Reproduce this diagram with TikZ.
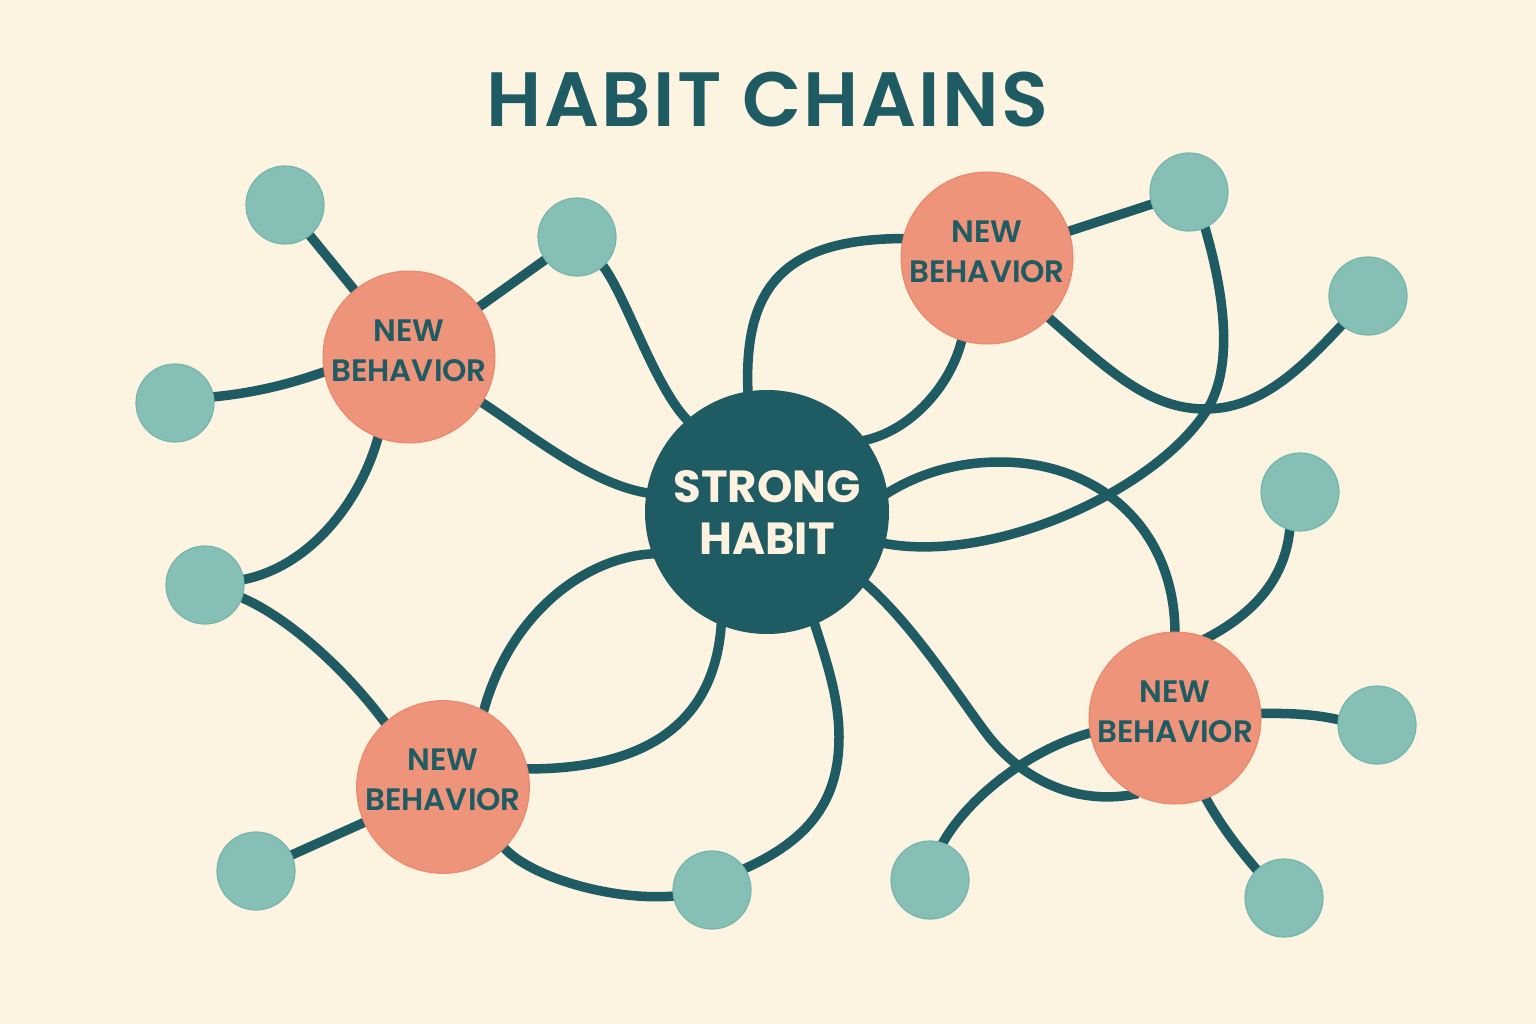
\documentclass[tikz,border=0pt]{standalone}
\usepackage{fontspec}
\setmainfont{Poppins}
\newfontfamily\titlefont{Poppins SemiBold}[LetterSpace=3]
\newfontfamily\labelfont{Poppins SemiBold}
\definecolor{bgc}{HTML}{FDF3E1}
\definecolor{deep}{HTML}{1E5B63}
\definecolor{coral}{HTML}{EE947A}
\definecolor{coraledge}{HTML}{E98A6E}
\definecolor{mint}{HTML}{86BFB6}
\definecolor{mintedge}{HTML}{74B6AD}
\definecolor{cream}{HTML}{FDF1DF}
\pgfdeclarelayer{bg}
\pgfdeclarelayer{edges}
\pgfsetlayers{bg,edges,main}
\begin{document}
\begin{tikzpicture}[x=1pt,y=-1pt,
  link/.style={draw=deep,line width=9.5pt,shorten <=-4pt,shorten >=-4pt},
  hub/.style={circle,fill=deep,minimum size=244pt,inner sep=0pt,align=center,
    text=cream,font=\fontsize{45}{52}\selectfont\bfseries},
  nb/.style={circle,fill=coral,draw=coraledge,line width=1.2pt,minimum size=170pt,inner sep=0pt,
    align=center,text=deep,font=\fontsize{31}{40}\labelfont},
  leaf/.style={circle,fill=mint,draw=mintedge,line width=1.2pt,minimum size=78pt,inner sep=0pt},
  titlestyle/.style={text=deep,font=\fontsize{77}{80}\titlefont,inner sep=0pt}]
\begin{pgfonlayer}{bg}
\fill[bgc] (0,0) rectangle (1536,1024);
\end{pgfonlayer}
\useasboundingbox (0,0) rectangle (1536,1024);

\node[titlestyle] (T) at (767.5,100) {HABIT CHAINS};

\node[hub] (C) at (767,512) {STRONG\\HABIT};
\node[nb] (N1) at (409,357) {NEW\\BEHAVIOR\rule[-12pt]{0pt}{12pt}};
\node[nb] (N2) at (987,258) {NEW\\BEHAVIOR\rule[-12pt]{0pt}{12pt}};
\node[nb] (N3) at (443,787) {NEW\\BEHAVIOR\rule[-14pt]{0pt}{14pt}};
\node[nb] (N4) at (1175,718) {NEW\\BEHAVIOR\rule[-12pt]{0pt}{12pt}};

\node[leaf] (L1) at (285,205) {};
\node[leaf] (L2) at (577,237) {};
\node[leaf] (L3) at (175,403) {};
\node[leaf] (L4) at (205,585) {};
\node[leaf] (L5) at (1189,192) {};
\node[leaf] (L6) at (1368,296) {};
\node[leaf] (L7) at (1300,492) {};
\node[leaf] (L8) at (1377,725) {};
\node[leaf] (L9) at (1284,898) {};
\node[leaf] (L10) at (930,880) {};
\node[leaf] (L11) at (712,890) {};
\node[leaf] (L12) at (256,871) {};

\begin{pgfonlayer}{edges}
\draw[link] (L1) -- (N1);
\draw[link] (N1) -- (L2);
\draw[link] (L3.9) .. controls (255,393) and (290,384) .. (N1.190);
\draw[link] (N1.328) .. controls (525,430) and (590,485) .. (C.171);
\draw[link] (N1.249) .. controls (362,500) and (310,568) .. (L4.8);
\draw[link] (L2.312) .. controls (625,292) and (655,390) .. (C.131);
\draw[link] (L4.341) .. controls (285,615) and (345,668) .. (N3.132);
\draw[link] (C.99) .. controls (743,290) and (780,238) .. (N2.167);
\draw[link] (N2.253) .. controls (952,385) and (910,432) .. (C.36);
\draw[link] (N2) -- (L5);
\draw[link] (N2.316) .. controls (1110,372) and (1150,409) .. (1205,409)
   .. controls (1260,409) and (1300,370) .. (L6.228);
\draw[link] (L5.294) .. controls (1219,275) and (1239,363) .. (1205,413)
   .. controls (1151,493) and (990,565) .. (C.345);
\draw[link] (C.9) .. controls (920,472) and (960,462) .. (1000,462)
   .. controls (1100,462) and (1176,530) .. (N4.90);
\draw[link] (L7.255) .. controls (1286,580) and (1252,615) .. (N4.68);
\draw[link] (N4.3) .. controls (1290,713) and (1315,714) .. (L8.172);
\draw[link] (N4.291) .. controls (1222,828) and (1240,850) .. (L9.134);
\draw[link] (L10.71) .. controls (965,800) and (1030,748) .. (N4.190);
\draw[link] (C.324) .. controls (912,623) and (956,693) .. (986,733)
   .. controls (1016,773) and (1070,808) .. (N4.242);
\draw[link] (C.200) .. controls (590,555) and (510,610) .. (N3.62);
\draw[link] (C.248) .. controls (716,720) and (650,770) .. (N3.12);
\draw[link] (C.293) .. controls (828,665) and (839,700) .. (839,737)
   .. controls (839,800) and (810,840) .. (L11.33);
\draw[link] (N3.315) .. controls (525,875) and (610,902) .. (L11.189);
\draw[link] (L12) -- (N3);
\end{pgfonlayer}
\end{tikzpicture}
\end{document}
